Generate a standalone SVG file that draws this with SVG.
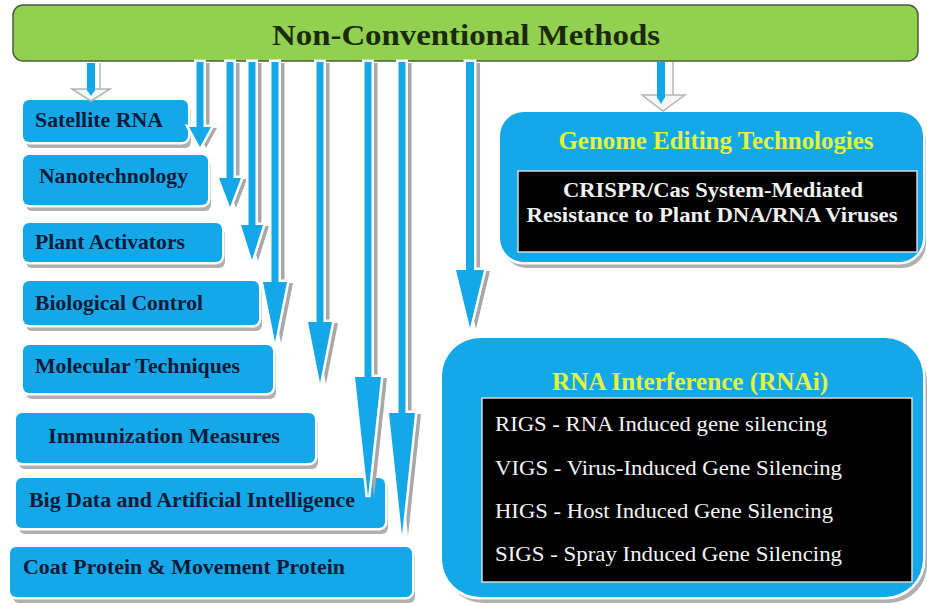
<svg xmlns="http://www.w3.org/2000/svg" xmlns:xlink="http://www.w3.org/1999/xlink" width="927" height="605" viewBox="0 0 927 605">
<style>
  .bx { fill: #14a8e8; stroke: #ffffff; stroke-width: 5; paint-order: stroke; }
  .bsh { fill: #b0b0b0; }
  .lt { font-family: "Liberation Serif", "Times New Roman", serif; font-weight: bold; font-size: 22px; fill: #0c1a38; }
  .hd { font-family: "Liberation Serif", "Times New Roman", serif; font-weight: bold; font-size: 25px; fill: #e2f53a; }
  .wt { font-family: "Liberation Serif", "Times New Roman", serif; font-weight: bold; font-size: 21px; fill: #f2f2f2; }
  .wr { font-family: "Liberation Serif", "Times New Roman", serif; font-weight: normal; font-size: 21.5px; fill: #f4f4f4; }
  .blk { fill: #000000; stroke: #d8d8d8; stroke-width: 1.5; }
  .ash { fill: #a8a8a8; }
  .arr { fill: #14a8e8; stroke: #ffffff; stroke-width: 5; stroke-linejoin: miter; paint-order: stroke; }
  .hw { fill: #f3f7f9; stroke: #b4b4b4; stroke-width: 1.5; }
</style>
<defs>
  <path id="a2" d="M196.5,62 H203.5 V127 H211 L200,147 L189,127 H196.5 Z"/>
  <path id="a3" d="M226.5,62 H233.5 V178 H241 L230,207 L219,178 H226.5 Z"/>
  <path id="a4" d="M248.5,62 H255.5 V225 H263 L252,260 L241,225 H248.5 Z"/>
  <path id="a5" d="M271.5,62 H278.5 V282 H287 L275,342 L263,282 H271.5 Z"/>
  <path id="a6" d="M316.5,62 H323.5 V322 H332 L320,383 L308,322 H316.5 Z"/>
  <path id="a7" d="M364.5,62 H371.5 V377 H381 L368,497 L355,377 H364.5 Z"/>
  <path id="a8" d="M398.5,62 H405.5 V413 H415 L402,535 L389,413 H398.5 Z"/>
  <path id="a9" d="M466,62 H474 V270 H484 L470,328 L456,270 H466 Z"/>
</defs>

<g id="banner">
  <rect x="13" y="5" width="905" height="56" rx="10" fill="#92d050" stroke="#4d5b3c" stroke-width="1.5"/>
  <text x="466" y="45" text-anchor="middle" font-family="Liberation Serif, Times New Roman, serif" font-weight="bold" font-size="30" fill="#1b2a0d" textLength="388" lengthAdjust="spacingAndGlyphs">Non-Conventional Methods</text>
</g>

<g id="satellite-rna">
  <rect class="bsh" x="26" y="105" width="165" height="43" rx="6"/>
  <rect class="bx" x="23" y="100" width="165" height="42" rx="6"/>
  <text class="lt" x="35" y="127" textLength="128" lengthAdjust="spacingAndGlyphs">Satellite RNA</text>
</g>
<g id="nanotechnology">
  <rect class="bsh" x="26" y="160" width="185" height="51" rx="6"/>
  <rect class="bx" x="23" y="155" width="185" height="50" rx="6"/>
  <text class="lt" x="39" y="183" textLength="149" lengthAdjust="spacingAndGlyphs">Nanotechnology</text>
</g>
<g id="plant-activators">
  <rect class="bsh" x="26" y="228" width="199" height="40" rx="6"/>
  <rect class="bx" x="23" y="223" width="199" height="39" rx="6"/>
  <text class="lt" x="35" y="249" textLength="150" lengthAdjust="spacingAndGlyphs">Plant Activators</text>
</g>
<g id="biological-control">
  <rect class="bsh" x="26" y="286" width="236" height="45" rx="6"/>
  <rect class="bx" x="23" y="281" width="236" height="44" rx="6"/>
  <text class="lt" x="35" y="310" textLength="168" lengthAdjust="spacingAndGlyphs">Biological Control</text>
</g>
<g id="molecular-techniques">
  <rect class="bsh" x="26" y="350" width="250" height="49" rx="6"/>
  <rect class="bx" x="23" y="345" width="250" height="48" rx="6"/>
  <text class="lt" x="35" y="373" textLength="205" lengthAdjust="spacingAndGlyphs">Molecular Techniques</text>
</g>
<g id="immunization-measures">
  <rect class="bsh" x="19" y="418" width="299" height="51" rx="6"/>
  <rect class="bx" x="16" y="413" width="299" height="50" rx="6"/>
  <text class="lt" x="48" y="443" textLength="232" lengthAdjust="spacingAndGlyphs">Immunization  Measures</text>
</g>
<g id="big-data-ai">
  <rect class="bsh" x="19" y="483" width="369" height="51" rx="6"/>
  <rect class="bx" x="16" y="478" width="369" height="50" rx="6"/>
  <text class="lt" x="29" y="507" textLength="326" lengthAdjust="spacingAndGlyphs">Big Data and Artificial  Intelligence</text>
</g>
<g id="coat-movement-protein">
  <rect class="bsh" x="13" y="552" width="402" height="51" rx="6"/>
  <rect class="bx" x="10" y="547" width="402" height="50" rx="6"/>
  <text class="lt" x="23" y="574" textLength="322" lengthAdjust="spacingAndGlyphs">Coat Protein  &amp; Movement Protein</text>
</g>

<g id="genome-editing">
  <rect x="503" y="117" width="423" height="151" rx="24" fill="#b0b0b0"/>
  <rect class="bx" x="500" y="112" width="423" height="150" rx="24"/>
  <text class="hd" x="716" y="149" text-anchor="middle" textLength="315" lengthAdjust="spacingAndGlyphs">Genome Editing Technologies</text>
  <rect class="blk" x="518" y="171" width="399" height="81"/>
  <text class="wt" x="713" y="197" text-anchor="middle" textLength="300" lengthAdjust="spacingAndGlyphs">CRISPR/Cas System-Mediated</text>
  <text class="wt" x="712" y="222" text-anchor="middle" textLength="371" lengthAdjust="spacingAndGlyphs">Resistance to Plant  DNA/RNA Viruses</text>
</g>

<g id="rna-interference">
  <rect x="445" y="343" width="482" height="260" rx="38" fill="#b0b0b0"/>
  <rect class="bx" x="442" y="338" width="481" height="259" rx="38"/>
  <text class="hd" x="690" y="390" text-anchor="middle" textLength="276" lengthAdjust="spacingAndGlyphs">RNA Interference (RNAi)</text>
  <rect class="blk" x="482" y="398" width="430" height="184"/>
  <text class="wr" x="495" y="431" textLength="332" lengthAdjust="spacingAndGlyphs">RIGS - RNA Induced  gene silencing</text>
  <text class="wr" x="495" y="475" textLength="347" lengthAdjust="spacingAndGlyphs">VIGS - Virus-Induced  Gene Silencing</text>
  <text class="wr" x="495" y="518" textLength="338" lengthAdjust="spacingAndGlyphs">HIGS - Host Induced  Gene Silencing</text>
  <text class="wr" x="495" y="561" textLength="347" lengthAdjust="spacingAndGlyphs">SIGS - Spray Induced  Gene Silencing</text>
</g>

<g id="connectors">
  <line x1="100" y1="63" x2="100" y2="90" stroke="#b4b4b4" stroke-width="1.5"/>
  <polygon class="hw" points="72,89 110,89 91,101"/>
  <rect x="87" y="63" width="8" height="28" fill="#14a8e8"/>
  <polygon points="87,90 95,90 91,96" fill="#14a8e8"/>
  <line x1="673" y1="62" x2="673" y2="95" stroke="#b4b4b4" stroke-width="1.5"/>
  <polygon class="hw" points="642,95 685,95 663,111"/>
  <rect x="657" y="62" width="8" height="36" fill="#14a8e8"/>
  <polygon points="657,97 665,97 661,104" fill="#14a8e8"/>
  <use xlink:href="#a2" class="ash" transform="translate(6,1)"/>
  <use xlink:href="#a2" class="arr"/>
  <use xlink:href="#a3" class="ash" transform="translate(6,1)"/>
  <use xlink:href="#a3" class="arr"/>
  <use xlink:href="#a4" class="ash" transform="translate(6,1)"/>
  <use xlink:href="#a4" class="arr"/>
  <use xlink:href="#a5" class="ash" transform="translate(6,1)"/>
  <use xlink:href="#a5" class="arr"/>
  <use xlink:href="#a6" class="ash" transform="translate(6,1)"/>
  <use xlink:href="#a6" class="arr"/>
  <use xlink:href="#a7" class="ash" transform="translate(6,1)"/>
  <use xlink:href="#a7" class="arr"/>
  <use xlink:href="#a8" class="ash" transform="translate(6,1)"/>
  <use xlink:href="#a8" class="arr"/>
  <use xlink:href="#a9" class="ash" transform="translate(6,1)"/>
  <use xlink:href="#a9" class="arr"/>
</g>
</svg>
